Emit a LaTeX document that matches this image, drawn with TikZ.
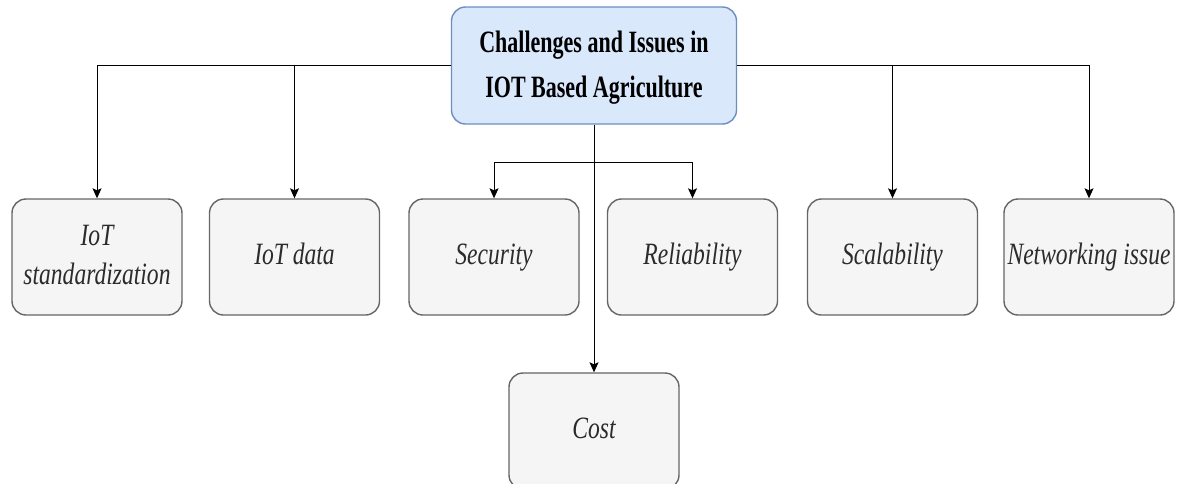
\documentclass[tikz,border=0pt]{standalone}
\usepackage{fontspec}
\setmainfont{Liberation Serif}
\usetikzlibrary{arrows.meta}
\definecolor{rootFill}{HTML}{DAE8FC}
\definecolor{rootLine}{HTML}{6C8EBF}
\definecolor{leafFill}{HTML}{F5F5F5}
\definecolor{leafLine}{HTML}{666666}
\definecolor{leafText}{HTML}{2B2B2B}
\newcommand{\narrowtext}[2]{\scalebox{#1}[1]{\begin{tabular}{@{}c@{}}#2\end{tabular}}}

\begin{document}
\begin{tikzpicture}
[x=1pt,y=-1pt,
  lineDecorate/.style={-{Stealth[length=10pt,width=9pt,inset=2pt]},line width=1pt},%
  elbowDecorate/.style={lineDecorate,to path={-| (\tikztotarget)}},
  rootDecorate/.style={shape=rectangle,rounded corners=14pt,draw=rootLine,fill=rootFill,
    line width=1.4pt,minimum width=285pt,minimum height=117pt,inner sep=0pt,
    font=\fontsize{31}{45}\selectfont\bfseries},
  nodeDecorate/.style={shape=rectangle,rounded corners=14pt,draw=leafLine,fill=leafFill,
    line width=1.4pt,minimum width=170pt,minimum height=116pt,inner sep=0pt,
    text=leafText,font=\fontsize{31}{39}\selectfont\itshape}]
\useasboundingbox (0,0) rectangle (1177,483);
%% nodes
\node (root) at (594,65.5) [rootDecorate]
  {\raisebox{-4pt}{\narrowtext{0.71}{Challenges and Issues in\\IOT Based Agriculture}}};
\foreach \nodename/\x/\y/\txt in {
  std/97/257/{IoT\\standardization},
  data/294.5/257/{IoT data},
  sec/494/257/{Security},
  rel/692.5/257/{Reliability},
  scal/892.5/257/{Scalability},
  net/1089/257/{Networking issue},
  cost/594/431/{Cost}}
{
  \node (\nodename) at (\x,\y) [nodeDecorate] {\narrowtext{0.76}{\txt}};
}
\coordinate (fork) at (594,162);
%% edges
\path
\foreach \startnode/\endnode in {
  root.west/std, root.west/data, root.east/scal, root.east/net,
  fork/sec, fork/rel}
{
  (\startnode) edge[elbowDecorate] (\endnode)
}
(root.south) edge[lineDecorate] (cost);
\end{tikzpicture}
\end{document}
